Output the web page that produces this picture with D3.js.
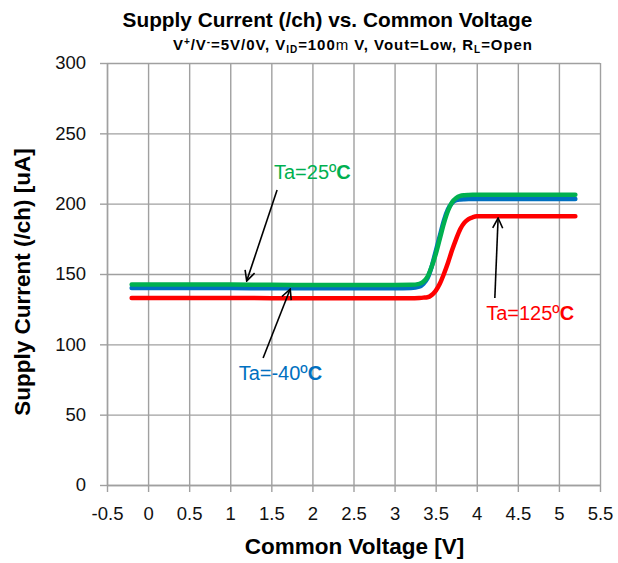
<!DOCTYPE html>
<html>
<head>
<meta charset="utf-8">
<script src="https://cdn.jsdelivr.net/npm/d3@7"></script>
<style>
  body { margin: 0; background: #fff; }
  svg { display: block; font-family: "Liberation Sans", Arial, sans-serif; }
</style>
</head>
<body>
<div id="chart"></div>
<script>
// measured points (V, uA)
const voltage = [-0.2, 0.5, 1.0, 1.5, 2.0, 2.5, 3.0, 3.2, 3.3, 3.35, 3.4, 3.45, 3.5, 3.55, 3.6, 3.65, 3.7, 3.75, 3.8, 3.85, 3.9, 3.95, 4.0, 4.1, 4.5, 5.0, 5.2];
const current25 = [142.5, 142.5, 142.5, 142.3, 142.2, 142.2, 142.2, 142.3, 143, 144.5, 148, 155, 164, 175, 186, 195, 201, 204, 205.5, 206, 206.2, 206.3, 206.3, 206.3, 206.3, 206.3, 206.3];
const currentM40 = [140, 140, 140, 139.8, 139.8, 139.8, 139.8, 140, 141, 143, 147, 155, 166, 177, 188, 196, 200.5, 202.5, 203, 203.2, 203.3, 203.3, 203.3, 203.3, 203.3, 203.3, 203.3];
const current125 = [133, 133, 133, 132.8, 132.8, 132.8, 132.8, 132.8, 133, 133.2, 133.5, 135, 138, 143, 150, 158, 167, 175, 182, 186.5, 189, 190.3, 191, 191, 191, 191, 191];

const seriesNames = ["Ta=125ºC", "Ta=-40ºC", "Ta=25ºC"];
const seriesColors = ["#ff0000", "#0070c0", "#00b050"];
const seriesValues = [current125, currentM40, current25];

const xTicks = [-0.5, 0, 0.5, 1, 1.5, 2, 2.5, 3, 3.5, 4, 4.5, 5, 5.5];
const yTicks = [0, 50, 100, 150, 200, 250, 300];

// annotation anchors in data units: label [V, uA], arrow from -> to
const labelAt = [[4.65, 117], [1.61, 74.6], [2.0, 217.5]];
const arrowFrom = [[4.22, 133], [1.40, 90.3], [1.57, 209.7]];
const arrowTo = [[4.26, 189.8], [1.73, 139.3], [1.20, 145]];

const W = 618, H = 563;
const margin = {top: 63, right: 18, bottom: 78, left: 107};
const iw = W - margin.left - margin.right,
    ih = H - margin.top - margin.bottom;

const x = d3.scaleLinear().domain([-0.5, 5.5]).range([0, iw]);
const y = d3.scaleLinear().domain([0, 300]).range([ih, 0]);

const svg = d3.select("#chart").append("svg")
    .attr("width", W)
    .attr("height", H);

svg.append("rect").attr("width", W).attr("height", H).attr("fill", "#fff");

svg.append("defs").append("marker")
    .attr("id", "arrow")
    .attr("markerUnits", "userSpaceOnUse")
    .attr("viewBox", "0 0 12 12")
    .attr("refX", 11)
    .attr("refY", 6)
    .attr("markerWidth", 12)
    .attr("markerHeight", 12)
    .attr("orient", "auto")
    .append("path")
    .attr("d", "M1,1 L11,6 L1,11")
    .attr("fill", "none")
    .attr("stroke", "#000")
    .attr("stroke-width", 1.6);

const g = svg.append("g").attr("transform", `translate(${margin.left},${margin.top})`);

// grid
g.append("g")
    .attr("class", "grid")
    .call(d3.axisLeft(y).tickValues(yTicks).tickSize(-iw).tickFormat(""))
    .call(s => s.select(".domain").remove());
g.append("g")
    .attr("class", "grid")
    .attr("transform", `translate(0,${ih})`)
    .call(d3.axisBottom(x).tickValues(xTicks).tickSize(-ih).tickFormat(""))
    .call(s => s.select(".domain").remove());
g.selectAll(".grid line").attr("stroke", "#a0a0a0").attr("stroke-width", 1.4);

// axes
const yAxis = g.append("g")
    .call(d3.axisLeft(y).tickValues(yTicks).tickSize(7).tickPadding(14).tickSizeOuter(0));
const xAxis = g.append("g")
    .attr("transform", `translate(0,${ih})`)
    .call(d3.axisBottom(x).tickValues(xTicks).tickSize(7).tickPadding(15).tickSizeOuter(0)
        .tickFormat(d => String(d)));
[yAxis, xAxis].forEach(a => {
    a.select(".domain").attr("stroke", "#a0a0a0").attr("stroke-width", 1.4);
    a.selectAll(".tick line").attr("stroke", "#a0a0a0").attr("stroke-width", 1.4);
    a.selectAll(".tick text")
        .attr("fill", "#111")
        .style("font-family", "'Liberation Sans', Arial, sans-serif")
        .style("font-size", "18.5px");
});

// curves
const line = d3.line()
    .x((d, i) => x(voltage[i]))
    .y(d => y(d))
    .curve(d3.curveMonotoneX);

seriesValues.forEach((vals, k) => {
    g.append("path")
        .datum(vals)
        .attr("fill", "none")
        .attr("stroke", seriesColors[k])
        .attr("stroke-width", 4.5)
        .attr("stroke-linecap", "round")
        .attr("d", line);
});

// annotations
seriesNames.forEach((name, k) => {
    g.append("line")
        .attr("x1", x(arrowFrom[k][0]))
        .attr("y1", y(arrowFrom[k][1]))
        .attr("x2", x(arrowTo[k][0]))
        .attr("y2", y(arrowTo[k][1]))
        .attr("stroke", "#000")
        .attr("stroke-width", 1.6)
        .attr("marker-end", "url(#arrow)");
    const t = g.append("text")
        .attr("x", x(labelAt[k][0]))
        .attr("y", y(labelAt[k][1]))
        .attr("text-anchor", "middle")
        .attr("fill", seriesColors[k])
        .style("font-size", "20px");
    t.append("tspan").text(name.replace("ºC", "º"));
    t.append("tspan").attr("font-weight", "bold").text("C");
});

// titles
svg.append("text")
    .attr("x", 327.5)
    .attr("y", 27)
    .attr("text-anchor", "middle")
    .attr("font-weight", "bold")
    .style("font-size", "20.8px")
    .text("Supply Current (/ch) vs. Common Voltage");

const sub = svg.append("text")
    .attr("x", 173)
    .attr("y", 50)
    .attr("font-weight", "bold")
    .style("font-size", "15px");
sub.append("tspan").text("V");
sub.append("tspan").attr("dy", -5).style("font-size", "10px").text("+");
sub.append("tspan").attr("dy", 5).text("/V");
sub.append("tspan").attr("dy", -5).style("font-size", "10px").text("-");
sub.append("tspan").attr("dy", 5).text("=5V/0V, V");
sub.append("tspan").attr("dy", 3).style("font-size", "10px").text("ID");
sub.append("tspan").attr("dy", -3).text("=100");
sub.append("tspan").attr("font-weight", "normal").text("m");
sub.append("tspan").text(" V, Vout=Low, R");
sub.append("tspan").attr("dy", 3).style("font-size", "10px").text("L");
sub.append("tspan").attr("dy", -3).text("=Open");
// stretch the subtitle to the width it has in the original
const subLen = sub.node().getComputedTextLength();
const subChars = sub.text().length;
sub.style("letter-spacing", `${Math.max(0, (360 - subLen) / subChars)}px`);

svg.append("text")
    .attr("x", 354.5)
    .attr("y", 554)
    .attr("text-anchor", "middle")
    .attr("font-weight", "bold")
    .style("font-size", "22.5px")
    .text("Common Voltage [V]");

svg.append("text")
    .attr("transform", "translate(30,282) rotate(-90)")
    .attr("text-anchor", "middle")
    .attr("font-weight", "bold")
    .style("font-size", "22.5px")
    .text("Supply Current (/ch) [uA]");
</script>
</body>
</html>
